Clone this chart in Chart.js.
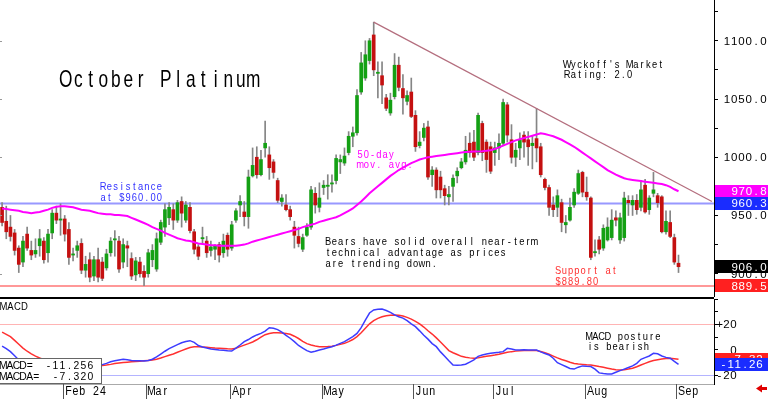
<!DOCTYPE html>
<html>
<head>
<meta charset="utf-8">
<script src="https://cdn.jsdelivr.net/npm/chart.js@4.4.1/dist/chart.umd.min.js"></script>
<style>
  html, body { margin: 0; padding: 0; background: #fff; }
  #wrap { position: relative; width: 768px; height: 399px; overflow: hidden; background: #fff; }
  #price { position: absolute; left: 0; top: 0; }
  #macd { position: absolute; left: 0; top: 297px; }
</style>
</head>
<body>
<div id="wrap">
  <canvas id="price" width="768" height="297"></canvas>
  <canvas id="macd" width="768" height="102"></canvas>
</div>
<script>
// trading days shown on the chart (Jan 10 - Sep 3, 2024)
const dates = [
  '2024-01-10','2024-01-11','2024-01-12','2024-01-16','2024-01-17','2024-01-18','2024-01-19','2024-01-22','2024-01-23','2024-01-24','2024-01-25','2024-01-26','2024-01-29','2024-01-30','2024-01-31',
  '2024-02-01','2024-02-02','2024-02-05','2024-02-06','2024-02-07','2024-02-08','2024-02-09','2024-02-12','2024-02-13','2024-02-14','2024-02-15','2024-02-16','2024-02-20','2024-02-21','2024-02-22','2024-02-23','2024-02-26','2024-02-27','2024-02-28','2024-02-29',
  '2024-03-01','2024-03-04','2024-03-05','2024-03-06','2024-03-07','2024-03-08','2024-03-11','2024-03-12','2024-03-13','2024-03-14','2024-03-15','2024-03-18','2024-03-19','2024-03-20','2024-03-21','2024-03-22','2024-03-25','2024-03-26','2024-03-27','2024-03-28',
  '2024-04-01','2024-04-02','2024-04-03','2024-04-04','2024-04-05','2024-04-08','2024-04-09','2024-04-10','2024-04-11','2024-04-12','2024-04-15','2024-04-16','2024-04-17','2024-04-18','2024-04-19','2024-04-22','2024-04-23','2024-04-24','2024-04-25','2024-04-26','2024-04-29','2024-04-30',
  '2024-05-01','2024-05-02','2024-05-03','2024-05-06','2024-05-07','2024-05-08','2024-05-09','2024-05-10','2024-05-13','2024-05-14','2024-05-15','2024-05-16','2024-05-17','2024-05-20','2024-05-21','2024-05-22','2024-05-23','2024-05-24','2024-05-28','2024-05-29','2024-05-30','2024-05-31',
  '2024-06-03','2024-06-04','2024-06-05','2024-06-06','2024-06-07','2024-06-10','2024-06-11','2024-06-12','2024-06-13','2024-06-14','2024-06-17','2024-06-18','2024-06-20','2024-06-21','2024-06-24','2024-06-25','2024-06-26','2024-06-27','2024-06-28',
  '2024-07-01','2024-07-02','2024-07-03','2024-07-05','2024-07-08','2024-07-09','2024-07-10','2024-07-11','2024-07-12','2024-07-15','2024-07-16','2024-07-17','2024-07-18','2024-07-19','2024-07-22','2024-07-23','2024-07-24','2024-07-25','2024-07-26','2024-07-29','2024-07-30','2024-07-31',
  '2024-08-01','2024-08-02','2024-08-05','2024-08-06','2024-08-07','2024-08-08','2024-08-09','2024-08-12','2024-08-13','2024-08-14','2024-08-15','2024-08-16','2024-08-19','2024-08-20','2024-08-21','2024-08-22','2024-08-23','2024-08-26','2024-08-27','2024-08-28','2024-08-29','2024-08-30',
  '2024-09-03'
];
// empty slots to the right of the last bar
const futureDates = ['2024-09-04','2024-09-05','2024-09-06','2024-09-09','2024-09-10','2024-09-11','2024-09-12','2024-09-13'];

const opens = [
  957, 945, 940, 935, 922, 910, 934, 920, 917, 924,
  928, 918, 935, 952, 946, 947, 938, 916, 920, 926,
  903, 912, 898, 912, 910, 905, 918, 929, 928, 910,
  924, 913, 899, 910, 902, 900, 912, 904, 927, 940,
  948, 955, 946, 962, 946, 957, 936, 923, 930, 928,
  920, 921, 925, 918, 933, 922, 946, 959, 953, 949,
  984, 1000, 985, 1008, 1002, 996, 980, 962, 959, 955,
  940, 932, 921, 933, 940, 969, 957, 974, 975, 977,
  980, 996, 995, 1004, 1018, 1021, 1056, 1068, 1083, 1105,
  1072, 1070, 1051, 1038, 1052, 1079, 1059, 1048, 1056, 1036,
  1010, 1017, 1026, 985, 989, 983, 973, 966, 975, 984,
  991, 996, 1012, 1013, 1004, 1029, 1013, 1009, 1004, 1008,
  1012, 1045, 1015, 1000, 1008, 1019, 1015, 1010, 1016, 1009,
  981, 974, 959, 957, 961, 942, 946, 959, 969, 987,
  970, 965, 918, 929, 922, 929, 931, 948, 929, 931,
  963, 959, 963, 957, 976, 955, 969, 967, 966, 936,
  944, 931, 909
];
const highs = [
  961, 958, 950, 938, 924, 932, 940, 928, 930, 938,
  931, 938, 955, 958, 960, 950, 944, 922, 928, 930,
  915, 918, 915, 922, 914, 921, 931, 937, 932, 930,
  928, 918, 914, 914, 907, 921, 925, 935, 946, 960,
  961, 960, 963, 966, 962, 961, 938, 925, 940, 932,
  928, 925, 927, 934, 935, 945, 956, 967, 962, 989,
  1008, 1009, 1006, 1031, 1009, 998, 982, 968, 968, 958,
  945, 940, 934, 943, 975, 974, 978, 980, 985, 985,
  1002, 1002, 1008, 1022, 1026, 1058, 1090, 1100, 1102, 1116,
  1082, 1082, 1054, 1055, 1089, 1086, 1071, 1057, 1068, 1040,
  1022, 1029, 1031, 992, 991, 988, 976, 975, 985, 991,
  999, 1018, 1021, 1023, 1038, 1031, 1015, 1013, 1013, 1020,
  1050, 1047, 1028, 1012, 1021, 1022, 1022, 1018, 1042, 1012,
  982, 976, 966, 972, 964, 950, 965, 973, 989, 988,
  983, 966, 929, 932, 942, 948, 955, 954, 952, 970,
  967, 967, 968, 980, 981, 967, 987, 969, 967, 954,
  954, 934, 916
];
const lows = [
  941, 930, 928, 916, 901, 906, 920, 912, 914, 915,
  909, 910, 930, 943, 933, 928, 908, 911, 914, 900,
  897, 893, 894, 893, 894, 903, 915, 915, 901, 905,
  906, 895, 894, 897, 889.8, 897, 906, 902, 925, 932,
  942, 938, 944, 940, 944, 935, 917, 912, 926, 914,
  915, 912, 910, 914, 915, 920, 944, 949, 941, 939,
  983, 982, 984, 1000, 981, 982, 961, 958, 954, 946,
  922, 923, 919, 932, 938, 952, 953, 968, 964, 970,
  977, 986, 993, 1002, 1009, 1019, 1054, 1066, 1080, 1070,
  1051, 1046, 1040, 1036, 1050, 1057, 1037, 1045, 1034, 1005,
  1008, 1014, 981, 975, 965, 965, 959, 959, 962, 978,
  990, 994, 1000, 997, 1002, 997, 987, 986, 993, 998,
  1010, 1013, 995, 992, 998, 1000, 993, 990, 996, 983,
  972, 950, 949, 949, 936, 935, 945, 957, 968, 966,
  963, 912, 915, 917, 920, 928, 929, 941, 926, 928,
  950, 950, 951, 954, 952, 951, 966, 957, 935, 934,
  931, 908, 901
];
const closes = [
  944, 936, 932, 920, 908, 928, 922, 916, 920, 930,
  912, 934, 952, 946, 947, 934, 914, 917, 924, 903,
  908, 897, 912, 897, 896, 917, 928, 930, 904, 925,
  922, 898, 911, 900, 897, 918, 920, 930, 944, 955,
  957, 946, 961, 952, 959, 937, 921, 915, 931, 918,
  923, 924, 916, 928, 921, 942, 954, 962, 949, 983,
  993, 985, 998, 1012, 991, 987, 963, 965, 955, 949,
  933, 926, 931, 940, 972, 959, 965, 976, 976, 978,
  999, 998, 1001, 1018, 1021, 1053, 1081, 1088, 1100, 1075,
  1073, 1062, 1042, 1049, 1079, 1060, 1051, 1053, 1035, 1009,
  1013, 1025, 983, 989, 972, 972, 967, 968, 982, 988,
  996, 1006, 1004, 1000, 1036, 1004, 998, 988, 1008, 1012,
  1047, 1019, 1000, 1006, 1015, 1013, 1009, 1012, 1008, 985,
  974, 957, 955, 967, 944, 944, 957, 970, 986, 970,
  966, 914, 919, 921, 939, 940, 946, 946, 948, 965,
  961, 963, 955, 972, 953, 965, 972, 961, 936, 945,
  932, 910, 906
];
// 50-day moving average
const ma50 = [
  956, 955.5, 955, 954.5, 954, 953, 952.5, 952, 952.5, 953, 954, 955, 956.5, 957.5,
  958, 958, 957.5, 957, 956, 955, 954.5, 954, 953, 952,
  951.5, 951, 951, 950.5, 950.5, 950, 949.5, 948, 946.5, 945, 943.5,
  942, 940, 938.5, 937, 935, 933.5, 932, 930.5,
  929.5, 928.5, 928, 927, 926, 925.5, 925, 924.5, 924.5, 924, 924, 924, 924,
  924, 924.5, 925, 926, 927.5, 928.5, 929.5, 930.5, 931.5, 932.5, 933.5, 934.5, 935.5,
  936.5, 937.5, 938.5, 940, 941, 942, 943, 944.5, 945.5, 946.5, 947.5, 948.5,
  950, 952, 954, 956, 959, 962, 965.5, 969, 972, 975, 978, 981,
  984, 986.5, 989, 991, 993, 995, 996.5, 998, 999, 1000, 1000.5, 1001,
  1001.5, 1002, 1002.5, 1003, 1003.5, 1004, 1004.5, 1004.8, 1005, 1005, 1005.2, 1005.5, 1006,
  1007, 1008.5, 1010, 1011.5, 1013, 1014.5, 1015.5, 1016.5, 1017.5, 1018.5, 1019.5, 1020.5,
  1020, 1019, 1018, 1016.5, 1015, 1013, 1011, 1009, 1006.5, 1004, 1001.5, 999,
  996.5, 994, 991.5, 989, 987, 985, 983.5, 982, 981, 980.5, 980, 979.5,
  979, 978.5, 978, 977.5, 977, 976, 974.5, 972.5, 970.8
];
const macd = [
  3, 1, -1.3, -4.5, -7.8,
  -9.5, -11, -12, -12.8, -13.2, -13.5, -13.5, -13.2, -12.8, -12.5, -12.3, -12.5, -12.8, -13, -13, -12.8, -12.5, -12.3, -12,
  -11.5, -10.5, -9.2, -8.4, -7.8, -7.3, -7.6, -8.2, -8.4, -8.5, -8.6, -8.2, -7.3,
  -5.5, -3.2, -1, 1, 2.6, 4.2, 5.7, 6.6, 7.3, 6,
  3.5, 2.4, 1.5, 0.8, 0.4, 0, -0.3, -0.6, -0.8, 1.5,
  3.9, 6.5, 8.2, 10.2, 11.8, 13, 14.8, 17.5, 17, 16,
  14, 11.5, 9.2, 6.5, 3.5, 1.5, -0.5, -1.8, -1, 0,
  0.8, 1.8, 2.6, 3.8, 5.2, 6.5, 8.5, 10.5, 13, 17.5,
  23.5, 29, 31.4, 32, 32.2, 31, 29.5, 27.5, 26, 25,
  23, 20.5, 18.3, 15, 11.5, 8.5, 5, 2.6, -1.5, -5,
  -8.5, -11.8, -12, -11.8, -11.2, -9.5, -7.8, -5, -3.9, -3.2,
  -2.6, -2.2, -1.8, -1.3, 1.3, 0.8, 0, 0, 0.2, 0,
  0, 0, -1.5, -2.8, -3.9, -6.5, -10, -11.5, -13, -14.5,
  -15, -13.5, -12.5, -12.8, -13, -15, -18, -18.5, -18.8, -18.8,
  -17.5, -16.2, -15, -13.8, -12.5, -10.5, -7.3, -6, -4.7, -2.6,
  -3, -4.7, -5.8, -6.5, -9, -11.256
];
const macdSignal = [
  14, 12.3, 10.5, 7.5, 4.5,
  1.5, -1, -3, -4.8, -6.3, -7.6, -8.7, -9.6, -10.3, -10.9, -11.3, -11.7, -12, -12.2, -12.4, -12.5, -12.6, -12.6, -12.5,
  -12.2, -11.8, -11.3, -10.7, -10.3, -9.9, -9.6, -9.3, -9, -8.8, -8.5, -8.2, -7.9,
  -7.2, -6.3, -5.2, -4.1, -3.1, -1.8, -0.5, 0.8, 2, 2.5,
  2.6, 2.4, 2.1, 1.8, 1.5, 1.3, 1.1, 0.9, 0.8, 1.3,
  2.6, 3.8, 5, 6.3, 8, 10, 12, 13, 13.6, 13.6,
  13.4, 13, 12.3, 10.8, 9, 6.8, 5, 3.9, 3.2, 2.6,
  2.6, 2.7, 3, 3.6, 4.4, 5.2, 6.5, 8.2, 10.5, 13.5,
  17, 20.5, 23, 24.8, 26, 26.8, 27.3, 27.5, 27.3, 26.6,
  25.6, 24.2, 22.5, 20.5, 18, 15.1, 12.5, 9.5, 6.3, 3,
  -0.5, -2.2, -3.6, -5, -5.7, -6.2, -6.5, -6.2, -5.6, -5,
  -4.5, -4, -3.4, -2.6, -1.8, -1.3, -0.9, -0.6, -0.5, -0.5,
  -0.5, -0.5, -1.2, -2.2, -3.4, -4.8, -6.2, -7.5, -8.4, -9.6,
  -10.6, -11, -11.3, -11.6, -11.8, -12.3, -13, -13.6, -14.3, -15,
  -15.5, -15.7, -15.5, -15, -14.4, -13.2, -11.8, -10.5, -9.3, -8.3,
  -7.6, -7, -6.6, -6.5, -6.8, -7.32
];
// down trendline from the May high
const trendDates = ['2024-05-17', '2024-09-13'];
const trendValues = [1116, 962];
const resistance = 960.3;
const support = 889.5;
const priceTicks = [900, 950, 1000, 1050, 1100];
const macdTicks = [20, 0, -20];
const monthStarts = ['2024-02-01', '2024-03-01', '2024-04-01', '2024-05-01', '2024-06-03', '2024-07-01', '2024-08-01', '2024-09-03'];
const monthLabels = ['Feb 24', 'Mar', 'Apr', 'May', 'Jun', 'Jul', 'Aug', 'Sep'];

const labels = dates.concat(futureDates);
const GREEN = '#14a014';
const RED = '#c41010';
const bodyColors = closes.map((c, i) => c >= opens[i] ? GREEN : RED);

// draws text with a fixed advance per character, like the original's font
function spaced(ctx, str, x, y, o) {
  const adv = o.adv, sx = o.sx || 1;
  ctx.save();
  ctx.font = o.size + 'px "Liberation Sans", Arial, sans-serif';
  ctx.fillStyle = o.color || '#000';
  ctx.textBaseline = 'alphabetic';
  ctx.textAlign = 'left';
  const x0 = o.align === 'right' ? x - str.length * adv : x;
  for (let k = 0; k < str.length; k++) {
    const ch = str[k];
    if (ch === ' ') continue;
    const w = ctx.measureText(ch).width * sx;
    ctx.save();
    ctx.translate(x0 + k * adv + (adv - w) / 2, y);
    ctx.scale(sx, 1);
    ctx.fillText(ch, 0, 0);
    ctx.restore();
  }
  ctx.restore();
}

function valueBox(ctx, py, text, color, right) {
  ctx.fillStyle = color;
  ctx.fillRect(715, Math.round(py - 6.5), 53, 13);
  spaced(ctx, text, right, py + 4, { size: 11.5, adv: 7.2, color: '#fff', align: 'right' });
}

const small = { size: 11, adv: 6.25, sx: 0.85 };

const pricePanel = {
  id: 'pricePanel',
  beforeDatasetsDraw(chart) {
    const { ctx, chartArea: a, scales: { y } } = chart;
    ctx.save();
    ctx.lineWidth = 2;
    ctx.strokeStyle = '#9898ff';
    let py = y.getPixelForValue(resistance);
    ctx.beginPath(); ctx.moveTo(a.left, py); ctx.lineTo(a.right, py); ctx.stroke();
    ctx.strokeStyle = '#ff9898';
    py = y.getPixelForValue(support);
    ctx.beginPath(); ctx.moveTo(a.left, py); ctx.lineTo(a.right, py); ctx.stroke();
    ctx.restore();
  },
  afterDraw(chart) {
    const { ctx, scales: { y } } = chart;
    ctx.save();
    ctx.fillStyle = '#999';
    priceTicks.forEach(v => ctx.fillRect(0, Math.round(y.getPixelForValue(v)), 2, 1));
    ctx.restore();

    priceTicks.forEach(v => spaced(ctx, v.toFixed(1), 767, y.getPixelForValue(v) + 4,
      { size: 11.5, adv: 7.3, align: 'right' }));

    valueBox(ctx, y.getPixelForValue(ma50[ma50.length - 1]), ma50[ma50.length - 1].toFixed(1), '#ff00ff', 767);
    valueBox(ctx, y.getPixelForValue(resistance), resistance.toFixed(1), '#1a2cff', 767);
    valueBox(ctx, y.getPixelForValue(closes[closes.length - 1]), closes[closes.length - 1].toFixed(1), '#000', 767);
    valueBox(ctx, y.getPixelForValue(support), support.toFixed(1), '#ff2020', 767);

    spaced(ctx, 'October Platinum', 59.5, 87, { size: 24, adv: 12.5, sx: 0.72 });
    spaced(ctx, "Wyckoff's Market", 564, 67.5, small);
    spaced(ctx, 'Rating: 2.0', 564, 78, small);
    spaced(ctx, '50-day', 357, 157.5, { ...small, color: '#ff00ff' });
    spaced(ctx, 'mov. avg.', 357, 168, { ...small, color: '#ff00ff' });
    spaced(ctx, 'Resistance', 100, 190, { ...small, color: '#3030ff' });
    spaced(ctx, 'at $960.00', 100, 200.5, { ...small, color: '#3030ff' });
    spaced(ctx, 'Bears have solid overall near-term', 325, 245, small);
    spaced(ctx, 'technical advantage as prices', 325, 256, small);
    spaced(ctx, 'are trending down.', 325, 267, small);
    spaced(ctx, 'Support at', 555, 274, { ...small, color: '#ff3030' });
    spaced(ctx, '$889.80', 555, 284.5, { ...small, color: '#ff3030' });
  }
};

const macdPanel = {
  id: 'macdPanel',
  beforeDatasetsDraw(chart) {
    const { ctx, chartArea: a, scales: { y } } = chart;
    ctx.save();
    ctx.lineWidth = 1;
    ctx.strokeStyle = '#ffb4b4';
    let py = Math.round(y.getPixelForValue(20)) + 0.5;
    ctx.beginPath(); ctx.moveTo(a.left, py); ctx.lineTo(a.right, py); ctx.stroke();
    ctx.strokeStyle = '#b4b4ff';
    py = Math.round(y.getPixelForValue(-20)) + 0.5;
    ctx.beginPath(); ctx.moveTo(a.left, py); ctx.lineTo(a.right, py); ctx.stroke();
    ctx.restore();
  },
  afterDraw(chart) {
    const { ctx, chartArea: a, scales: { x, y } } = chart;
    ctx.save();
    // panel separator and bottom line
    ctx.fillStyle = '#000';
    ctx.fillRect(0, 0, a.right, 2);
    ctx.fillStyle = '#aaa';
    ctx.fillRect(0, Math.round(a.bottom), a.right, 1);

    // month ticks and labels
    const step = x.getPixelForValue(1) - x.getPixelForValue(0);
    monthStarts.forEach((d, k) => {
      const px = Math.round(x.getPixelForValue(labels.indexOf(d)) - step / 2) + 0.5;
      ctx.strokeStyle = '#555';
      ctx.lineWidth = 1;
      ctx.beginPath(); ctx.moveTo(px, a.bottom); ctx.lineTo(px, 102); ctx.stroke();
      spaced(ctx, monthLabels[k], px + 1.5, 98, { size: 12.5, adv: 6.9, sx: 0.85 });
    });

    // axis labels
    macdTicks.forEach(v => spaced(ctx, (v > 0 ? '+' : '') + v, 737, y.getPixelForValue(v) + 4,
      { size: 11.5, adv: 7, align: 'right' }));

    // last values on the axis
    const lastM = macd[macd.length - 1], lastS = macdSignal[macdSignal.length - 1];
    valueBox(ctx, y.getPixelForValue(lastS), lastS.toFixed(2), '#ff2020', 763);
    valueBox(ctx, y.getPixelForValue(lastM), lastM.toFixed(2), '#1a2cff', 763);

    // readout box
    ctx.fillStyle = '#fff';
    ctx.fillRect(0, 61, 101, 25);
    ctx.strokeStyle = '#666';
    ctx.strokeRect(-0.5, 61.5, 102, 25);
    spaced(ctx, 'MACD=', 0, 71.5, { size: 11.5, adv: 6.6, sx: 0.9 });
    spaced(ctx, lastM.toFixed(3), 94, 71.5, { size: 11.5, adv: 7, sx: 0.9, align: 'right' });
    spaced(ctx, 'MACDA=', 0, 83, { size: 11.5, adv: 6.6, sx: 0.9 });
    spaced(ctx, lastS.toFixed(3), 94, 83, { size: 11.5, adv: 7, sx: 0.9, align: 'right' });

    spaced(ctx, 'MACD', 0, 12.5, { size: 10, adv: 7, sx: 0.95 });
    spaced(ctx, 'MACD posture', 586, 43, small);
    spaced(ctx, 'is bearish', 587, 53, small);

    // little red arrow, bottom right
    ctx.fillStyle = '#e00000';
    ctx.beginPath();
    ctx.moveTo(756, 91.5); ctx.lineTo(762, 87.5); ctx.lineTo(762, 90); ctx.lineTo(767, 90);
    ctx.lineTo(767, 93); ctx.lineTo(762, 93); ctx.lineTo(762, 95.5); ctx.closePath();
    ctx.fill();
    ctx.restore();
  }
};

const fixedWidth = scale => { scale.width = 54; };

new Chart(document.getElementById('price'), {
  type: 'bar',
  data: {
    labels: labels,
    datasets: [
      {
        type: 'line',
        data: ma50,
        borderColor: '#ff00ff',
        borderWidth: 2,
        pointRadius: 0,
        order: 0
      },
      {
        type: 'line',
        data: trendDates.map((d, k) => ({ x: d, y: trendValues[k] })),
        borderColor: '#b46e7e',
        borderWidth: 1.2,
        pointRadius: 0,
        order: 1
      },
      {
        data: opens.map((o, i) => [o, closes[i]]),
        backgroundColor: bodyColors,
        borderWidth: 0,
        barThickness: 3,
        minBarLength: 1,
        grouped: false,
        order: 2
      },
      {
        data: lows.map((l, i) => [l, highs[i]]),
        backgroundColor: '#858585',
        borderWidth: 0,
        barThickness: 1,
        grouped: false,
        order: 3
      }
    ]
  },
  options: {
    responsive: false,
    animation: false,
    devicePixelRatio: 1,
    events: [],
    layout: { padding: 0 },
    plugins: { legend: { display: false }, tooltip: { enabled: false } },
    scales: {
      x: { type: 'category', offset: true, display: false },
      y: {
        position: 'right',
        min: 880,
        max: 1135,
        afterFit: fixedWidth,
        border: { display: true, color: '#000', width: 1 },
        grid: { drawOnChartArea: false, drawTicks: true, tickLength: 4, color: '#000' },
        ticks: { display: false, stepSize: 25, includeBounds: false }
      }
    }
  },
  plugins: [pricePanel]
});

new Chart(document.getElementById('macd'), {
  type: 'line',
  data: {
    labels: labels,
    datasets: [
      { data: macd, borderColor: '#3c3cff', borderWidth: 1.5, pointRadius: 0, order: 0 },
      { data: macdSignal, borderColor: '#ff3030', borderWidth: 1.5, pointRadius: 0, order: 1 }
    ]
  },
  options: {
    responsive: false,
    animation: false,
    devicePixelRatio: 1,
    events: [],
    layout: { padding: { top: 2, bottom: 15, left: 0, right: 0 } },
    plugins: { legend: { display: false }, tooltip: { enabled: false } },
    scales: {
      x: { type: 'category', offset: true, display: false },
      y: {
        position: 'right',
        min: -26.7,
        max: 40,
        afterFit: fixedWidth,
        border: { display: true, color: '#000', width: 1 },
        grid: { drawOnChartArea: false, drawTicks: true, tickLength: 4, color: '#000' },
        ticks: { display: false, stepSize: 10, includeBounds: false }
      }
    }
  },
  plugins: [macdPanel]
});
</script>
</body>
</html>
